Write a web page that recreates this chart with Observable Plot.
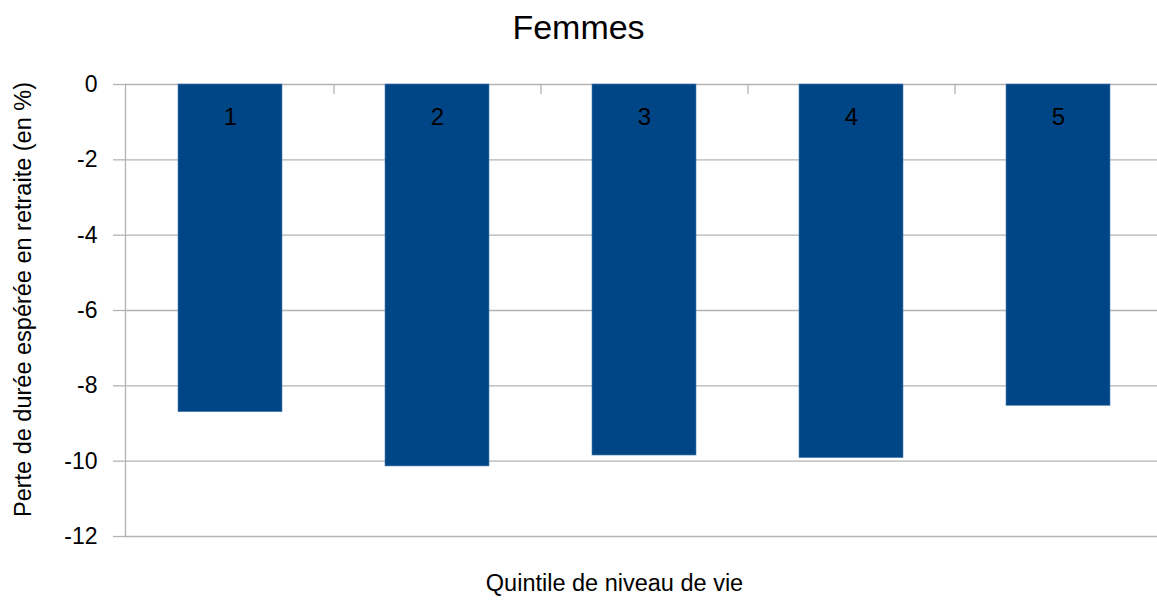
<!DOCTYPE html>
<html>
<head>
<meta charset="utf-8">
<script src="https://cdn.jsdelivr.net/npm/d3@7"></script>
<script src="https://cdn.jsdelivr.net/npm/@observablehq/plot@0.6"></script>
<style>
  html, body { margin: 0; padding: 0; background: #fff; overflow: hidden; }
  #wrap { position: relative; width: 1157px; height: 601px; overflow: hidden; font-family: "Liberation Sans", Arial, sans-serif; }
  #title { position: absolute; left: 0; top: 6px; width: 1157px; text-align: center; font-size: 34px; line-height: 42px; color: #000; }
  #chart { position: absolute; left: 0; top: 0; width: 1163px; }
</style>
</head>
<body>
<div id="wrap">
  <div id="chart"></div>
  <div id="title">Femmes</div>
</div>
<script>
const title = "Femmes";
const quintiles = ["1", "2", "3", "4", "5"];
const values = [-8.7, -10.14, -9.85, -9.92, -8.53];
const yTicks = [0, -2, -4, -6, -8, -10, -12];
const yLabel = "Perte de durée espérée en retraite (en %)";
const xLabel = "Quintile de niveau de vie";

const data = quintiles.map((q, i) => ({q, v: values[i]}));
const grey = "#b3b3b3";
const font = "Liberation Sans, Arial, sans-serif";

function make(step) {
  return Plot.plot({
    width: 1163,
    height: 601,
    marginTop: 84,
    marginBottom: 65,
    marginLeft: 125,
    marginRight: 0,
    style: {fontFamily: font, background: "#fff", color: "#000", overflow: "visible", maxWidth: "none", width: "1163px", height: "601px"},
    x: {domain: quintiles, paddingInner: 0.5, paddingOuter: 0.25, axis: null},
    y: {domain: [-12, 0], axis: null},
    marks: [
      Plot.gridY(yTicks, {stroke: grey, strokeOpacity: 1, strokeWidth: 1.3}),
      Plot.frame({anchor: "left", stroke: grey, strokeWidth: 1.3}),
      Plot.axisY(yTicks, {tickSize: 12, tickPadding: 16, fontSize: 23, stroke: grey, strokeWidth: 1.3, fill: "#000", label: null, tickFormat: d => String(d)}),
      Plot.ruleX(quintiles.slice(0, 4), {x: d => d, y1: 0, y2: 0, dx: step / 2, insetBottom: -10, stroke: grey, strokeWidth: 1.3}),
      Plot.barY(data, {x: "q", y: "v", fill: "#004586", stroke: "#4a7fb5", strokeWidth: 0.6}),
      Plot.text(data, {x: "q", y: 0, text: "q", dy: 33, fontSize: 24, fill: "#000", lineAnchor: "middle"}),
      Plot.text([yLabel], {text: d => d, frameAnchor: "left", rotate: -90, dx: -102, dy: -11, fontSize: 23.5, fill: "#000", textAnchor: "middle", lineAnchor: "middle"}),
      Plot.text([xLabel], {text: d => d, frameAnchor: "bottom", dx: -30, dy: 47, fontSize: 23.5, fill: "#000", textAnchor: "middle", lineAnchor: "middle"})
    ]
  });
}

const first = make(0);
const step = first.scale("x").step;
const chart = make(step);
document.getElementById("chart").appendChild(chart);
document.getElementById("title").textContent = title;
</script>
</body>
</html>
